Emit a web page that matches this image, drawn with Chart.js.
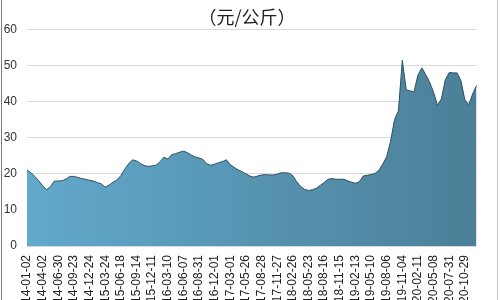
<!DOCTYPE html>
<html>
<head>
<meta charset="utf-8">
<script src="https://cdn.jsdelivr.net/npm/chart.js@4/dist/chart.umd.min.js"></script>
<style>
    html, body { margin: 0; padding: 0; background: #fff; overflow: hidden; }
    #wrap { position: relative; width: 500px; height: 300px; overflow: hidden; }
    #frame {
        position: absolute; left: 1px; top: 0; width: 495px; height: 300px;
        border-left: 1px solid #7a7a7a; border-right: 1px solid #c8c8c8;
        pointer-events: none;
    }
    canvas { position: absolute; left: 0; top: 0; }
</style>
</head>
<body>
<div id="wrap">
    <canvas id="priceChart" width="500" height="320"></canvas>
    <div id="frame"></div>
</div>
<script>
// ===========================
// DATA
// ===========================

// Tick labels (one every 4 points)
const tickLabels = [
    "2014-01-02", "2014-04-02", "2014-06-30", "2014-09-23", "2014-12-24",
    "2015-03-24", "2015-06-18", "2015-09-14", "2015-12-11", "2016-03-10",
    "2016-06-07", "2016-08-31", "2016-12-01", "2017-03-01", "2017-05-26",
    "2017-08-28", "2017-11-27", "2018-02-26", "2018-05-23", "2018-08-16",
    "2018-11-15", "2019-02-13", "2019-05-10", "2019-08-06", "2019-11-04",
    "2020-02-11", "2020-05-08", "2020-07-31", "2020-10-29"
];
const tickStep = 4;

// Price (元/公斤)
const prices = [
    21.1, 20.3, 19.3, 18.1, 16.7, 15.6, 16.5, 18.0, 18.0, 18.1,
    18.6, 19.3, 19.3, 19.0, 18.7, 18.5, 18.2, 18.0, 17.6, 17.2,
    16.3, 16.9, 17.7, 18.3, 19.5, 21.3, 22.8, 23.9, 23.6, 22.9,
    22.3, 22.1, 22.2, 22.4, 23.3, 24.6, 24.1, 25.3, 25.6, 26.0,
    26.3, 25.9, 25.2, 24.7, 24.4, 24.0, 22.8, 22.4, 22.7, 23.1,
    23.4, 23.9, 22.5, 21.8, 21.1, 20.6, 20.0, 19.4, 19.1, 19.4,
    19.7, 19.8, 19.7, 19.7, 19.9, 20.3, 20.3, 20.2, 19.5, 17.8,
    16.5, 15.7, 15.4, 15.6, 16.0, 16.8, 17.6, 18.5, 18.7, 18.5,
    18.5, 18.5, 18.1, 17.7, 17.4, 17.8, 19.4, 19.6, 19.8, 20.1,
    21.0, 22.7, 24.8, 29.0, 35.0, 37.5, 51.5, 43.3, 43.0, 42.8,
    47.4, 49.4, 47.5, 45.4, 42.6, 39.0, 40.8, 46.1, 48.1, 48.0,
    48.0, 45.8, 40.5, 39.2, 42.2, 44.5
];

// Y axis
const yMin = 0;
const yMax = 60;
const yStep = 10;

// Category labels: a tick label on every 4th point
const labels = prices.map((v, i) =>
    i % tickStep === 0 && tickLabels[i / tickStep] ? tickLabels[i / tickStep] : ""
);

// ===========================
// CHART
// ===========================

const font = { family: "'Liberation Sans', Arial, sans-serif", size: 12 };

new Chart(document.getElementById("priceChart"), {

    type: "line",

    data: {
        labels: labels,
        datasets: [{
            data: prices,
            fill: "origin",
            borderColor: "#2f4f62",
            borderWidth: 1,
            pointRadius: 0,
            tension: 0,
            backgroundColor: (ctx) => {
                const area = ctx.chart.chartArea;
                if (!area) return "#5a9cbd";
                const g = ctx.chart.ctx.createLinearGradient(area.left, 0, area.right, 0);
                g.addColorStop(0, "#62a9cc");
                g.addColorStop(1, "#4b7f98");
                return g;
            }
        }]
    },

    options: {
        responsive: false,
        animation: false,
        layout: { padding: { left: 4, right: 10, top: 0, bottom: 0 } },

        plugins: {
            legend: { display: false },
            tooltip: { enabled: false },
            title: {
                display: true,
                text: "（元/公斤）",
                color: "#222",
                font: { family: "'Noto Sans CJK SC', sans-serif", size: 18, weight: "normal" },
                padding: { top: 6, bottom: 2 }
            }
        },

        scales: {
            x: {
                offset: false,
                grid: { display: false, drawTicks: false },
                border: { color: "#d9d9d9" },
                ticks: {
                    autoSkip: false,
                    maxRotation: 90,
                    minRotation: 90,
                    padding: 9,
                    color: "#222",
                    font: font
                },
                afterFit: (scale) => { scale.height = 74; }
            },
            y: {
                min: yMin,
                max: yMax,
                grid: { color: "#d9d9d9", drawTicks: false },
                border: { display: false },
                ticks: {
                    stepSize: yStep,
                    padding: 10,
                    color: "#333",
                    font: font
                },
                afterFit: (scale) => { scale.width = 23; }
            }
        }
    }

});
</script>
</body>
</html>
